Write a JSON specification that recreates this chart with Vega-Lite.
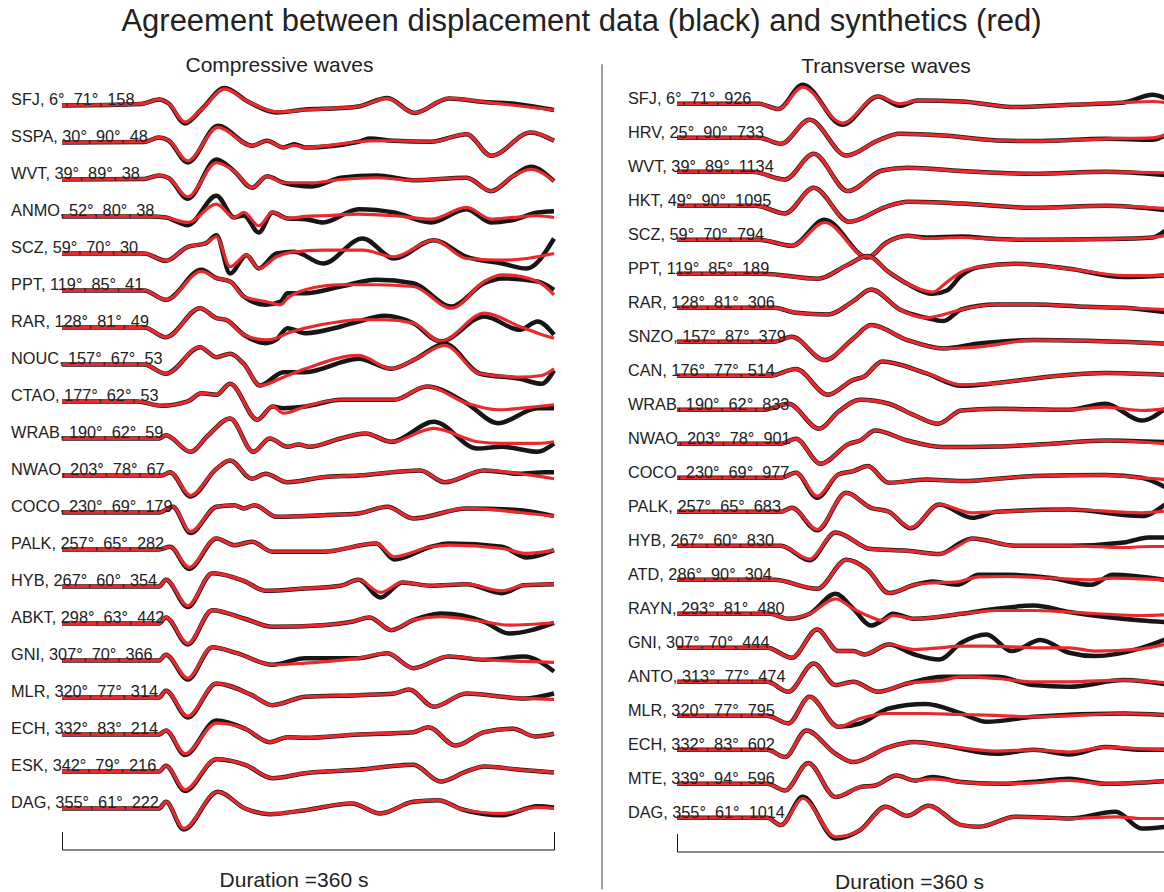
{
  "$schema": "https://vega.github.io/schema/vega-lite/v6.json",
  "autosize": {"type": "pad"},
  "padding": {"left": 11, "top": 6, "right": 0, "bottom": 0},
  "background": "white",
  "config": {"view": {"stroke": null}, "font": "Liberation Sans"},
  "title": {"text": "Agreement between displacement data (black) and synthetics (red)", "fontSize": 31, "fontWeight": "normal", "font": "Liberation Sans", "color": "#222", "anchor": "middle", "frame": "bounds", "baseline": "alphabetic", "offset": -7.4, "dx": -11},
  "datasets": {
    "P": [
      {"st":"SFJ","lab":"SFJ, 6°, 71°, 158","t":[0,58,71,78,90,102,119,136,157,178,204,217,238,258,283,309,332,360],"d":[0,1.5,6,2,-18,-4,17.5,4,-7,-4,-2.5,-1,7.5,-7.5,7,3.5,1.5,-4.5],"s":[0,1.5,6,2,-16.5,-4,16.5,4,-6.5,-4.5,-2.5,-1,7,-7.5,7,3.5,0,-4.5]},
      {"st":"SSPA","lab":"SSPA, 30°, 90°, 48","t":[0,60,71,78,92,114,139,150,162,170,178,217,225,243,270,296,314,343,360],"d":[0,0.5,5,2,-20,16.7,-3.3,1.7,-5,-1.7,-5,0.7,4,1.7,0.7,8.3,-13.3,10,1.7],"s":[0,0.5,5,2,-18.3,15,-3.3,1.7,-5,-3,-5,0.7,1.5,1.7,0.7,8.3,-13.3,10,1.7]},
      {"st":"WVT","lab":"WVT, 39°, 89°, 38","t":[0,60,71,78,92,113,126,139,150,162,183,204,230,257,296,314,330,343,360],"d":[0,0.5,4,1.5,-19.3,20,8.3,-8.3,3.3,-3.3,-7,1.7,4,-0.7,1.7,-11.7,3.3,12.7,-1.7],"s":[0,0.5,4,1.5,-17.3,16.7,8.3,-8.3,3.3,-3.3,-3.3,0,1.7,-0.7,1.7,-11.7,3.3,10,-1.7]},
      {"st":"ANMO","lab":"ANMO, 52°, 80°, 38","t":[0,65,76,92,113,126,133,144,154,165,178,191,217,243,270,296,314,330,348,360],"d":[0,0,-1,-8.7,20.7,-1,1,-16,4,-2,-2.7,-6,7.3,4,-6,7.3,-6,-3.5,4,5.3],"s":[0,0,-1,-6,12.3,-1,4,-9.3,4,-2,0,0.7,2.3,0.7,-2.7,9,-2.7,-1,0.7,-1]},
      {"st":"SCZ","lab":"SCZ, 59°, 70°, 30","t":[0,60,76,92,105,113,123,135,144,157,170,191,220,243,272,296,322,340,360],"d":[0,0,-7.3,6.7,10,18.3,-20,-1.7,-15,0,1.7,-10,15,-5,13.3,-3.3,-10,-15,15],"s":[0,0,-7.3,6.7,10,16.7,-13.3,-1.7,-15,-3.3,1.7,3.3,3.3,-3.3,13.3,-5,-6.7,-5,0]},
      {"st":"PPT","lab":"PPT, 119°, 85°, 41","t":[0,60,76,102,113,123,133,149,160,165,178,204,230,257,285,309,322,348,360],"d":[0,0,-9.3,20.7,12.3,9,-6,-14.3,-11,-2.7,-2.7,4,10.7,7.3,-16,7.3,12,9,0.7],"s":[0,0,-9.3,19,12.3,9,-6,-11,-14.3,-7.7,0.7,5.7,5.7,4,-17.7,9,15.7,9,-4.3]},
      {"st":"RAR","lab":"RAR, 128°, 81°, 49","t":[0,60,76,101,113,120,133,149,157,165,178,204,217,236,257,277,309,335,348,360],"d":[0,0,-9.7,19.3,9.3,7.7,-7.3,-15.7,-12,-0.7,-5.7,1,6,11.7,4.3,-14,11,-2.3,6,-7.3],"s":[0,0,-9.7,19.3,9.3,7.7,-7.3,-12.3,-10.7,-5.7,-0.7,6,7.7,7.7,4.3,-14,14.3,1,-5.7,-10.7]},
      {"st":"NOUC","lab":"NOUC, 157°, 67°, 53","t":[0,60,76,101,113,123,133,145,162,178,217,241,259,280,306,335,351,360],"d":[0,0,-9.3,17.3,7.3,10.7,0.7,-21,-7.7,-7.7,5.7,-4.3,5.7,20.7,-9.3,-14.3,-19.3,-6],"s":[0,0,-9.3,17.3,7.3,10.7,0.7,-21,-12.7,-4.3,9,-4.3,5.7,19,-9.3,-12.7,-11,-4.3]},
      {"st":"CTAO","lab":"CTAO, 177°, 62°, 53","t":[0,55,73,92,102,113,123,143,154,162,178,204,243,267,296,319,348,360],"d":[0,0,-4.3,0,8.3,6.7,17.7,-18.3,-5,-6.7,-5,1.7,1.7,15,-1.7,-21.7,-6.7,-6.7],"s":[0,0,-4.3,0,8.3,6.7,17.7,-18.3,-5,-11.7,-5,1.7,1.7,15,-1.7,-8.3,-5,-3.3]},
      {"st":"WRAB","lab":"WRAB, 190°, 62°, 59","t":[0,71,76,94,107,123,140,152,165,173,181,204,222,241,272,304,322,348,360],"d":[0,0,3.3,-13.3,3.3,20,-13.3,0,-8.3,-6,-8.3,0,5,-3.3,16.7,-10,-8.3,-13.3,-5],"s":[0,0,3.3,-13.3,3.3,20,-13.3,0,-8.3,-6,-8.3,0,5,-3.3,10,-3.3,-5,-5,-3.3]},
      {"st":"NWAO","lab":"NWAO, 203°, 78°, 67","t":[0,73,79,94,113,123,139,149,165,191,217,262,280,309,335,353,360],"d":[0,0,3.3,-21,6.7,15,-3.3,1.7,-6.7,-1.7,0,5,-6.7,5,1.7,3.3,3.3],"s":[0,0,3.3,-20,6.7,15,-3.3,1.7,-6.7,-1.7,0,5,-6.7,5,1.7,-1.7,-3.3]},
      {"st":"COCO","lab":"COCO, 230°, 69°, 179","t":[0,71,81,94,113,126,133,141,157,191,217,238,257,296,335,360],"d":[0,0,5.7,-20.5,5.7,7.3,4,7.3,-4.3,-2.7,-1,5.7,-6,4,2.3,-3.7],"s":[0,0,5.7,-19.3,5.7,7.3,4,7.3,-4.3,-2.7,-1,5.7,-6,4,0,-3.7]},
      {"st":"PALK","lab":"PALK, 257°, 65°, 282","t":[0,71,79,93,113,126,139,154,191,230,243,270,283,322,340,360],"d":[0,0,2.7,-19.5,11,4.3,7.7,-2.3,-2.3,6,-10,2.7,6,2.7,-8,-0.7],"s":[0,0,2.7,-18,11,4.3,7.7,-2.3,-2.3,6,-7.3,2.7,4.3,1,-4,-0.7]},
      {"st":"HYB","lab":"HYB, 267°, 60°, 354","t":[0,71,76,92,110,133,149,178,204,217,233,249,270,296,322,338,360],"d":[0,0,6.7,-20.5,13.3,5.7,-4.3,-2,0.7,6.7,-11,4,0.7,2.3,-6.7,1.3,2.3],"s":[0,0,6.7,-19.3,13.3,5.7,-4.3,-2,0.7,6.7,-6,4,0.7,2.3,-4.3,1.3,2.3]},
      {"st":"ABKT","lab":"ABKT, 298°, 63°, 442","t":[0,71,76,92,110,133,154,191,212,225,241,257,277,309,327,360],"d":[0,0,6,-21,13.3,5,-3.3,-1.7,1.7,6,-6.7,3.3,10,1.7,-10,0.7],"s":[0,0,6,-20,13.3,5,-3.3,-1.7,1.7,6,-6.7,3.3,6.7,1.7,-1.7,0.7]},
      {"st":"GNI","lab":"GNI, 307°, 70°, 366","t":[0,71,76,92,110,128,154,178,217,238,257,283,309,338,360],"d":[0,0,5.7,-19,13.3,7.3,-4.3,2.3,2.3,7.3,-7.7,4,0.7,4,-11],"s":[0,0,5.7,-17.7,13.3,7.3,-4.3,-2.7,2.3,7.3,-7.7,4,0.7,-1,-2]},
      {"st":"MLR","lab":"MLR, 320°, 77°, 314","t":[0,71,76,92,113,139,154,178,217,243,254,272,296,322,338,360],"d":[0,0,6.7,-20,14,2.3,-7.7,0.7,2.3,4,8,-9.3,4,0.7,-1,4],"s":[0,0,6.7,-18.7,14,2.3,-7.7,0.7,2.3,4,8,-9.3,4,0.7,-1,-2]},
      {"st":"ECH","lab":"ECH, 332°, 83°, 214","t":[0,71,76,90,113,134,152,165,178,217,257,268,288,309,330,346,360],"d":[0,0,4,-20.5,14,5.7,-7.7,-2.7,-3.3,0,2.3,7.3,-11,2.3,5.7,-2,0.7],"s":[0,0,4,-19.3,11.3,5.7,-7.7,-2.7,-3.3,0,2.3,7.3,-11,2.3,5.7,-2,0.7]},
      {"st":"ESK","lab":"ESK, 342°, 79°, 216","t":[0,71,76,90,113,134,154,178,217,257,277,296,309,335,360],"d":[0,0,5.7,-19.5,12.3,6.7,-6.7,-1.7,1.7,6.7,-10,0,5,1.7,-1],"s":[0,0,5.7,-18.3,12.3,6.7,-6.7,-1.7,1.7,6.7,-10,0,5,1.7,-1]},
      {"st":"DAG","lab":"DAG, 355°, 61°, 222","t":[0,71,76,89,114,134,152,178,212,233,257,275,293,322,348,360],"d":[0,0,6.7,-21,16.7,0,-5.7,-1.7,5,-5,6.7,8.3,-1,-6.7,2.3,1],"s":[0,0,6.7,-20,16.7,0,-5.7,-1.7,5,-5,6.7,8.3,-1,-5,1,0]}
    ],
    "S": [
      {"st":"SFJ","lab":"SFJ, 6°, 71°, 926","t":[0,60,74,92,121,147,163,176,208,248,287,327,348,357],"d":[0,0,-5.3,19,-21,7.3,-2,3.3,2.3,-3.3,-1,1.3,9,5.7],"s":[0,0,-5.3,16.7,-19.3,7.3,0,3.3,2.3,-3.3,-1,1.3,2.3,1.3]},
      {"st":"HRV","lab":"HRV, 25°, 90°, 733","t":[0,60,76,97,124,147,163,195,234,261,314,348,357],"d":[0,0,-6,18,-17.7,-2.7,4,2.3,-2.7,-3.3,-1,-2,2.3],"s":[0,0,-6,18,-17.7,-2.7,4,2.3,-2.7,-3.3,-1,0,2.3]},
      {"st":"WVT","lab":"WVT, 39°, 89°, 1134","t":[0,55,79,100,125,150,169,208,261,314,357],"d":[0,0,-7.7,18,-19.3,1.3,4,0.7,-2,0,-3.3],"s":[0,0,-7.7,18,-19.3,1.3,4,0.7,-2,0,-1]},
      {"st":"HKT","lab":"HKT, 49°, 90°, 1095","t":[0,58,79,100,126,153,169,208,261,314,357],"d":[0,0,-7.7,18,-16,-1,4,2.3,-2,0,-4.3],"s":[0,0,-7.7,18,-16,-1,4,2.3,-2,0,-2.7]},
      {"st":"SCZ","lab":"SCZ, 59°, 70°, 794","t":[0,60,84,108,139.5,153,168.5,182,208,234,261,314,348,357],"d":[0,0,-6,20,-17.7,-3,4,2.3,3.3,0.7,0,0.7,2.3,9],"s":[0,0,-6,17.3,-17.7,-3,4,1.3,2.3,0.7,0,0.7,2.3,4]},
      {"st":"PPT","lab":"PPT, 119°, 85°, 189","t":[0,63,103,124,139.5,155,168.5,187,197.5,208,221,248,287,327,357],"d":[0,0,-5,8.3,17.7,1.7,-10,-20,-16.7,-1.7,6.7,10,5,-3.3,-1.7],"s":[0,0,-5,8.3,17.7,1.7,-10,-18.3,-8.3,1.7,6.7,10,5,-1.7,-1.7]},
      {"st":"RAR","lab":"RAR, 128°, 81°, 306","t":[0,71,87,110.5,129,142,163,182,195,208,234,261,300,327,357],"d":[0,0,-5,-6.7,6.7,18.3,-1.7,-10,-13.3,-1.7,3.3,3.3,1,0,-4.3],"s":[0,0,-5,-6.7,6.7,18.3,-1.7,-10,-6.7,-1.7,3.3,3.3,1,0,-1.7]},
      {"st":"SNZO","lab":"SNZO, 157°, 87°, 379","t":[0,71,84,108,129,142,168.5,195,221,261,300,357],"d":[0,0,5,-18.3,3.3,16.7,1.7,-6.7,-1.7,1.7,1,-1.7],"s":[0,0,5,-18.3,3.3,16.7,1.7,-6.7,-5,1.7,1,-1.7]},
      {"st":"CAN","lab":"CAN, 176°, 77°, 514","t":[0,68,87,110.5,129,137,150,182,208,234,274,314,357],"d":[0,0,6.7,-19,-4,-0.7,14.3,2.7,-10,-7.3,-0.7,2.7,1],"s":[0,0,6.7,-19,-4,-0.7,14.3,2.7,-9,-7.3,-0.7,2.7,1]},
      {"st":"WRAB","lab":"WRAB, 190°, 62°, 833","t":[0,63,81.5,104,118,134,155,174,191,208,234,287,313.5,340,357],"d":[0,0,6,-19,-2,10,6,-5.7,-14,-0.7,1,0,6,-10.7,1],"s":[0,0,6,-19,-2,10,6,-5.7,-14,-0.7,1,0,2.7,-0.7,1]},
      {"st":"NWAO","lab":"NWAO, 203°, 78°, 901","t":[0,76,87,105,126,134,145,168.5,195,234,274,313.5,357],"d":[0,0,5,-20,0,3.3,13.3,3.3,-3.3,-2.7,0,3.3,1.7],"s":[0,0,5,-20,0,3.3,13.3,3.3,-3.3,-2.7,0,3.3,0]},
      {"st":"COCO","lab":"COCO, 230°, 69°, 977","t":[0,76,87,102.6,118,129,139.5,155,182,208,261,313.5,340,357],"d":[0,0,5,-20,3.3,6.7,11.7,-5,-1.7,-3.3,1.7,2.7,0,-9.3],"s":[0,0,5,-18.3,3.3,6.7,11.7,-5,-1.7,-3.3,1.7,2.7,0,-1.7]},
      {"st":"PALK","lab":"PALK, 257°, 65°, 683","t":[0,76,84,102.6,123.7,142,155,171,192,216,234,287,340,357],"d":[0,0,4,-18.5,19,4,0,-16.5,7.3,-6,0,2.3,-4.3,7.3],"s":[0,0,4,-17.7,19,4,0,-16,7.3,-1,0,2.3,-1,0.7]},
      {"st":"HYB","lab":"HYB, 267°, 60°, 830","t":[0,76,97,116,142,168.5,192,208,216,247.6,287,327,345,357],"d":[0,0,-14.5,13.3,-3.3,-5,-8.3,3.3,7.3,0,0,3.3,8.3,8.3],"s":[0,0,-13.3,13.3,-3.3,-5,-8.3,1.7,7.3,0,0,-1.7,-0.7,-0.7]},
      {"st":"ATD","lab":"ATD, 286°, 90°, 304","t":[0,71,102.6,124,139.5,155,174,187,205,221,242,274,303,319,357],"d":[0,0,-9,20,10,-13.3,-5,-1.7,-5,5,5,1.7,-5,5,0],"s":[0,0,-9,20,10,-13.3,-5,-3,-2,3,3.3,1.7,0,1.7,0]},
      {"st":"RAYN","lab":"RAYN, 293°, 81°, 480","t":[0,68,81.5,97,116,129,142,150,158,174,208,234,261,287,340,357],"d":[0,0,-5,0,20,5,-11.7,-7,0,-5,0,5,8.3,1.7,-6.7,-8.3],"s":[0,0,-5,0,15,5,-3.3,-6.7,-1.7,-5,0,3.3,3.3,1.7,-1.7,-1]},
      {"st":"GNI","lab":"GNI, 307°, 70°, 444","t":[0,66,84,102.6,118,129,137,155,174,192,208,226.5,245,266,287,305.6,340,357],"d":[0,0,-10,18.3,-3.3,-3.3,-6.7,3.3,-6.7,-11.7,5,13.3,-3.3,7.7,-5,-8.3,0,8.3],"s":[0,0,-10,18.3,-3.3,-3.3,-6.7,3.3,-1.7,0,1.7,1.7,1,0,0,-3.3,-1,3.3]},
      {"st":"ANTO","lab":"ANTO, 313°, 77°, 474","t":[0,66,81.5,100,116,129,147,168.5,195,208,234,261,287,327,357],"d":[0,0,-10,18.3,-3.3,0,-10,-1.7,5,5,5,-3.3,-5,1.7,-2.3],"s":[0,0,-10,18.3,-3.3,0,-10,-1.7,1.7,5,3.3,0,0,1.7,-1]},
      {"st":"MLR","lab":"MLR, 320°, 77°, 795","t":[0,66,81.5,97,118,134,155,182,208,226.5,261,327,357],"d":[0,0,-7.7,19,-11,-7.7,7.3,11.7,2.3,-6,-1,2.3,0.7],"s":[0,0,-7.7,19,-11,-2.7,2.3,2.3,1.3,0.7,-1,2.3,0.7]},
      {"st":"ECH","lab":"ECH, 332°, 83°, 602","t":[0,66,79,94.7,116,129,155,174,195,234,261,287,313.5,340,357],"d":[0,0,-7.3,19.3,-4,-12.3,2.7,7.7,4.3,-4,0,-4.7,2.7,0,0],"s":[0,0,-7.3,19.3,-4,-12.3,2.7,7.7,4.3,-1.3,0,-2.3,2.7,1,0]},
      {"st":"MTE","lab":"MTE, 339°, 94°, 596","t":[0,66,79,96,116,134,145,160.6,174,187,208,234,261,287,313.5,357],"d":[0,0,-6.7,20.7,-13.3,-3.3,-1.7,8.3,3.3,6.7,1.7,0,2,5,0,2.7],"s":[0,0,-6.7,20.7,-13.3,-3.3,-1.7,8.3,3.3,5,1.7,0,1,3.3,0,2.7]},
      {"st":"DAG","lab":"DAG, 355°, 61°, 1014","t":[0,66,76,92,116,134,152.7,168.5,184,208,221,247.6,274,287,321,340,357],"d":[0,0,-7.3,21,-20.7,-12.3,11,2,12,-7.3,-9,1,0,-0.7,6,-10.7,-9],"s":[0,0,-7.3,19.3,-19,-12.3,11,2,12,-7.3,-9,1,0,-0.7,1,-0.7,-0.7]}
    ]
  },
  "spacing": 10,
  "hconcat": [
    {
      "data": {"name": "P"},
      "transform": [{"flatten": ["t", "d", "s"]}],
      "facet": {"row": {"field": "st", "type": "nominal", "title": null, "sort": ["SFJ","SSPA","WVT","ANMO","SCZ","PPT","RAR","NOUC","CTAO","WRAB","NWAO","COCO","PALK","HYB","ABKT","GNI","MLR","ECH","ESK","DAG"], "header": {"labels": false, "title": null, "labelPadding": 0, "titlePadding": 0}}},
      "spacing": {"row": 0},
      "bounds": "flush",
      "spec": {
        "width": 492,
        "height": 36.94,
        "layer": [
          {
            "mark": {"type": "line", "color": "#161616", "strokeWidth": 4.5, "interpolate": "monotone"},
            "encoding": {
              "x": {"field": "t", "type": "quantitative", "scale": {"domain": [0, 360], "nice": false, "zero": false},
                "axis": {"values": [0, 360], "tickSize": -18, "labels": false, "grid": false, "domainColor": "#111", "tickColor": "#111", "domainWidth": 1, "tickWidth": 1, "offset": 22.5, "title": "Duration =360 s", "titleFont": "Liberation Sans", "titleFontSize": 21, "titleFontWeight": "normal", "titleColor": "#222", "titleX": 231.5, "titleY": 36.7, "titleAlign": "center", "titleBaseline": "alphabetic"}},
              "y": {"field": "d", "type": "quantitative", "scale": {"domain": [-18.47, 18.47], "nice": false, "zero": false}, "axis": null},
              "order": {"field": "t"}
            }
          },
          {
            "mark": {"type": "line", "color": "#e82a2e", "strokeWidth": 3.2, "interpolate": "monotone"},
            "encoding": {
              "x": {"field": "t", "type": "quantitative", "scale": {"domain": [0, 360], "nice": false, "zero": false},
                "axis": {"values": [0, 360], "tickSize": -18, "labels": false, "grid": false, "domainColor": "#111", "tickColor": "#111", "domainWidth": 1, "tickWidth": 1, "offset": 22.5, "title": "Duration =360 s", "titleFont": "Liberation Sans", "titleFontSize": 21, "titleFontWeight": "normal", "titleColor": "#222", "titleX": 231.5, "titleY": 36.7, "titleAlign": "center", "titleBaseline": "alphabetic"}},
              "y": {"field": "s", "type": "quantitative", "scale": {"domain": [-18.47, 18.47], "nice": false, "zero": false}, "axis": null},
              "order": {"field": "t"}
            }
          },
          {
            "transform": [{"filter": {"field": "t", "equal": 0}}],
            "mark": {"type": "text", "align": "left", "baseline": "alphabetic", "fontSize": 16.3, "font": "Liberation Sans", "color": "#222"},
            "encoding": {
              "x": {"datum": -37.3, "type": "quantitative", "scale": {"domain": [0, 360], "nice": false, "zero": false},
                "axis": {"values": [0, 360], "tickSize": -18, "labels": false, "grid": false, "domainColor": "#111", "tickColor": "#111", "domainWidth": 1, "tickWidth": 1, "offset": 22.5, "title": "Duration =360 s", "titleFont": "Liberation Sans", "titleFontSize": 21, "titleFontWeight": "normal", "titleColor": "#222", "titleX": 231.5, "titleY": 36.7, "titleAlign": "center", "titleBaseline": "alphabetic"}},
              "y": {"datum": 0, "type": "quantitative", "scale": {"domain": [-18.47, 18.47], "nice": false, "zero": false}, "axis": null},
              "text": {"field": "lab", "type": "nominal"}
            }
          },
          {
            "transform": [{"filter": {"and": [{"field": "st", "equal": "SFJ"}, {"field": "t", "equal": 0}]}}],
            "mark": {"type": "text", "align": "center", "baseline": "alphabetic", "fontSize": 21, "font": "Liberation Sans", "color": "#222", "dy": -33.6},
            "encoding": {
              "x": {"datum": 159.1, "type": "quantitative", "scale": {"domain": [0, 360], "nice": false, "zero": false},
                "axis": {"values": [0, 360], "tickSize": -18, "labels": false, "grid": false, "domainColor": "#111", "tickColor": "#111", "domainWidth": 1, "tickWidth": 1, "offset": 22.5, "title": "Duration =360 s", "titleFont": "Liberation Sans", "titleFontSize": 21, "titleFontWeight": "normal", "titleColor": "#222", "titleX": 231.5, "titleY": 36.7, "titleAlign": "center", "titleBaseline": "alphabetic"}},
              "y": {"datum": 0, "type": "quantitative", "scale": {"domain": [-18.47, 18.47], "nice": false, "zero": false}, "axis": null},
              "text": {"value": "Compressive waves"}
            }
          }
        ]
      }
    },
    {
      "width": 44,
      "height": 738.8,
      "data": {"values": [{"a": 1}]},
      "mark": {"type": "rule", "color": "#808080", "strokeWidth": 1.5, "yOffset": -22.7, "y2Offset": 63.5},
      "encoding": {
        "x": {"datum": 29, "type": "quantitative", "scale": {"domain": [0, 44]}, "axis": null},
        "y": {"datum": 1, "type": "quantitative", "scale": {"domain": [0, 1]}, "axis": null},
        "y2": {"datum": 0}
      }
    },
    {
      "data": {"name": "S"},
      "transform": [{"flatten": ["t", "d", "s"]}],
      "facet": {"row": {"field": "st", "type": "nominal", "title": null, "sort": ["SFJ","HRV","WVT","HKT","SCZ","PPT","RAR","SNZO","CAN","WRAB","NWAO","COCO","PALK","HYB","ATD","RAYN","GNI","ANTO","MLR","ECH","MTE","DAG"], "header": {"labels": false, "title": null, "labelPadding": 0, "titlePadding": 0}}},
      "spacing": {"row": 0},
      "bounds": "flush",
      "spec": {
        "width": 488,
        "height": 33.58,
        "layer": [
          {
            "mark": {"type": "line", "color": "#161616", "strokeWidth": 4.5, "interpolate": "monotone"},
            "encoding": {
              "x": {"field": "t", "type": "quantitative", "scale": {"domain": [0, 357.07], "nice": false, "zero": false},
                "axis": {"values": [0], "tickSize": -18, "labels": false, "grid": false, "domainColor": "#111", "tickColor": "#111", "domainWidth": 1, "tickWidth": 1, "offset": 16.5, "title": "Duration =360 s", "titleFont": "Liberation Sans", "titleFontSize": 21, "titleFontWeight": "normal", "titleColor": "#222", "titleX": 232, "titleY": 36.7, "titleAlign": "center", "titleBaseline": "alphabetic"}},
              "y": {"field": "d", "type": "quantitative", "scale": {"domain": [-16.79, 16.79], "nice": false, "zero": false}, "axis": null},
              "order": {"field": "t"}
            }
          },
          {
            "mark": {"type": "line", "color": "#e82a2e", "strokeWidth": 3.2, "interpolate": "monotone"},
            "encoding": {
              "x": {"field": "t", "type": "quantitative", "scale": {"domain": [0, 357.07], "nice": false, "zero": false},
                "axis": {"values": [0], "tickSize": -18, "labels": false, "grid": false, "domainColor": "#111", "tickColor": "#111", "domainWidth": 1, "tickWidth": 1, "offset": 16.5, "title": "Duration =360 s", "titleFont": "Liberation Sans", "titleFontSize": 21, "titleFontWeight": "normal", "titleColor": "#222", "titleX": 232, "titleY": 36.7, "titleAlign": "center", "titleBaseline": "alphabetic"}},
              "y": {"field": "s", "type": "quantitative", "scale": {"domain": [-16.79, 16.79], "nice": false, "zero": false}, "axis": null},
              "order": {"field": "t"}
            }
          },
          {
            "transform": [{"filter": {"field": "t", "equal": 0}}],
            "mark": {"type": "text", "align": "left", "baseline": "alphabetic", "fontSize": 16.3, "font": "Liberation Sans", "color": "#222"},
            "encoding": {
              "x": {"datum": -35.9, "type": "quantitative", "scale": {"domain": [0, 357.07], "nice": false, "zero": false},
                "axis": {"values": [0], "tickSize": -18, "labels": false, "grid": false, "domainColor": "#111", "tickColor": "#111", "domainWidth": 1, "tickWidth": 1, "offset": 16.5, "title": "Duration =360 s", "titleFont": "Liberation Sans", "titleFontSize": 21, "titleFontWeight": "normal", "titleColor": "#222", "titleX": 232, "titleY": 36.7, "titleAlign": "center", "titleBaseline": "alphabetic"}},
              "y": {"datum": 0, "type": "quantitative", "scale": {"domain": [-16.79, 16.79], "nice": false, "zero": false}, "axis": null},
              "text": {"field": "lab", "type": "nominal"}
            }
          },
          {
            "transform": [{"filter": {"and": [{"field": "st", "equal": "SFJ"}, {"field": "t", "equal": 0}]}}],
            "mark": {"type": "text", "align": "center", "baseline": "alphabetic", "fontSize": 21, "font": "Liberation Sans", "color": "#222", "dy": -31},
            "encoding": {
              "x": {"datum": 152.9, "type": "quantitative", "scale": {"domain": [0, 357.07], "nice": false, "zero": false},
                "axis": {"values": [0], "tickSize": -18, "labels": false, "grid": false, "domainColor": "#111", "tickColor": "#111", "domainWidth": 1, "tickWidth": 1, "offset": 16.5, "title": "Duration =360 s", "titleFont": "Liberation Sans", "titleFontSize": 21, "titleFontWeight": "normal", "titleColor": "#222", "titleX": 232, "titleY": 36.7, "titleAlign": "center", "titleBaseline": "alphabetic"}},
              "y": {"datum": 0, "type": "quantitative", "scale": {"domain": [-16.79, 16.79], "nice": false, "zero": false}, "axis": null},
              "text": {"value": "Transverse waves"}
            }
          }
        ]
      }
    }
  ]
}
